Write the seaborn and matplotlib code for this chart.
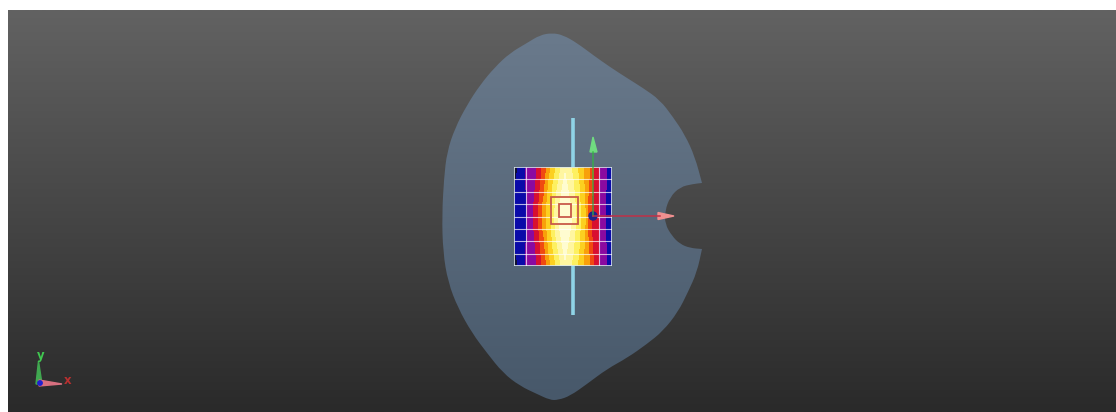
import numpy as np
import seaborn as sns
from matplotlib import pyplot as plt
from matplotlib.colors import LinearSegmentedColormap, ListedColormap
from matplotlib.patches import Polygon, Rectangle, Circle, PathPatch
from matplotlib.path import Path

# outline of the plate, clockwise from the top, in picture pixels
# the two notch corners are listed twice so the curve keeps them sharp
outline_x = [552, 563, 577, 593, 610, 627, 643, 660, 673, 685, 695, 702, 702,
             693, 680, 670, 665, 665, 672, 680, 690, 702, 702,
             697, 688, 678, 663, 647, 627, 607, 587, 570, 558, 550,
             537, 520, 503, 487, 472, 458, 448, 443, 442,
             444, 447, 455, 467, 480, 495, 510, 527, 540]
outline_y = [33, 35, 43, 55, 67, 78, 88, 100, 117, 135, 157, 183, 183,
             184, 187, 197, 211, 224, 236, 244, 248, 249, 249,
             272, 292, 312, 331, 344, 358, 369, 384, 396, 400, 400,
             394, 386, 373, 353, 333, 308, 282, 252, 215,
             178, 152, 128, 105, 85, 67, 53, 43, 35]

# band edges of the temperature field, px from the left of the map,
# one value per row from the top row down to the middle row
black_blue = [3, 2, 1, 1, 0, 0, 0, 0, 0]
blue_purple = [11, 11, 11, 11, 12, 12, 12, 12, 12]
purple_red = [22, 22, 21, 21, 20, 20, 19, 19, 19]
red_orange = [27, 27, 26, 26, 25, 25, 24, 24, 24]
orange_amber = [32, 31, 31, 30, 30, 29, 28, 28, 28]
amber_yellow = [36, 35, 34, 34, 33, 33, 32, 32, 32]
yellow_light = [41, 40, 39, 38, 38, 37, 37, 36, 36]
light_pale = [46, 45, 44, 43, 42, 41, 41, 40, 40]
pale_white = [51, 50, 49, 48, 47, 46, 45, 44, 44]
white_pale = [51, 52, 53, 54, 55, 56, 57, 58, 58]
pale_light = [58, 59, 60, 60, 61, 61, 62, 62, 62]
light_yellow = [64, 65, 65, 66, 66, 66, 67, 67, 67]
yellow_amber = [70, 70, 70, 71, 71, 71, 71, 72, 72]
amber_orange = [76, 76, 75, 75, 75, 74, 74, 74, 74]
orange_red = [80, 80, 79, 79, 79, 78, 78, 78, 78]
red_purple = [85, 85, 85, 85, 85, 85, 85, 85, 85]
purple_blue = [93, 93, 93, 93, 92, 92, 92, 92, 92]

# temperature level on the far side of each edge, left to right
edge_table = [black_blue, blue_purple, purple_red, red_orange, orange_amber, amber_yellow,
              yellow_light, light_pale, pale_white, white_pale, pale_light, light_yellow,
              yellow_amber, amber_orange, orange_red, red_purple, purple_blue]
band_levels = [0, 1, 2, 3, 4, 5, 6, 7, 8, 9, 8, 7, 6, 5, 4, 3, 2, 1]
field_colors = ["#101030", "#0a0aa8", "#8a0aa0", "#d81030", "#f04a10",
                "#f8a00a", "#fcd020", "#fdf060", "#fff6a0", "#fffcd0"]

bg_colors = ["#626262", "#2a2a2a"]
plate_colors = ["#6a7a8c", "#47586a"]

rod_x = [573, 573]
rod_y = [118, 315]
y_arrow_x = [593, 593]
y_arrow_y = [216, 152]
x_arrow_x = [593, 660]
x_arrow_y = [216, 216]

fig = plt.figure(figsize=(11.16, 4.12), dpi=100)
ax = fig.add_axes([0, 0, 1, 1])
ax.axis("off")

# backgrounds are plain vertical gradients
ramp = np.linspace(0, 1, 256).reshape(-1, 1)
bg_cmap = LinearSegmentedColormap.from_list("bg", bg_colors)
ax.imshow(ramp, cmap=bg_cmap, extent=(8, 1116, 412, 10), aspect="auto", zorder=0)
plate_cmap = LinearSegmentedColormap.from_list("plate", plate_colors)
plate_img = ax.imshow(ramp, cmap=plate_cmap, extent=(441, 704, 401, 33), aspect="auto", zorder=1)

# smooth closed outline: listed points act as quadratic control points
pts = np.column_stack([outline_x, outline_y]).astype(float)
mids = (pts + np.roll(pts, -1, axis=0)) / 2
verts = [mids[-1]]
codes = [Path.MOVETO]
for p, m in zip(pts, mids):
    verts += [p, m]
    codes += [Path.CURVE3, Path.CURVE3]
plate = PathPatch(Path(verts, codes), transform=ax.transData, fill=False, lw=0)
ax.add_patch(plate)
plate_img.set_clip_path(plate)
ax.set_xlim(0, 1116)
ax.set_ylim(412, 0)

sns.lineplot(x=rod_x, y=rod_y, ax=ax, color="#8fd3e6", lw=2.6, zorder=2, sort=False,
             estimator=None, solid_capstyle="butt")

# heatmap sits in its own axes
top_half = []
for edges in zip(*edge_table):
    row = np.array(band_levels)[np.searchsorted(edges, np.arange(98), side="right")]
    top_half.append(row)
field = np.array(top_half + top_half[-2::-1])

hm_ax = fig.add_axes([513.5 / 1116, 1 - 266 / 412, 98.5 / 1116, 99 / 412], zorder=3)
sns.heatmap(field, ax=hm_ax, cmap=ListedColormap(field_colors), vmin=0, vmax=9,
            cbar=False, xticklabels=False, yticklabels=False)
n_rows, n_cols = field.shape
grid_rows = [2.1, 4.25, 6.4, 8.5, 10.6, 12.75, 14.9]
grid_cols = [12.5, 85.5]
hm_ax.hlines(grid_rows, 0, n_cols, color="white", lw=0.8, alpha=0.7)
hm_ax.vlines(grid_cols, 0, n_rows, color="white", lw=0.8, alpha=0.7)
hm_ax.add_patch(Rectangle((0, 0), n_cols, n_rows, fill=False, ec="#d8e4ea", lw=1.2))

# overlay axes for the selection squares and arrows
top = fig.add_axes([0, 0, 1, 1], zorder=4)
top.set_xlim(0, 1116)
top.set_ylim(412, 0)
top.axis("off")
top.add_patch(Rectangle((551, 197), 27, 27, fill=False, ec="#c85a48", lw=1.3))
top.add_patch(Rectangle((559, 204), 12, 13, fill=False, ec="#c85a48", lw=1.3))
top.plot(y_arrow_x, y_arrow_y, color="#30b840", lw=1.1, alpha=0.8)
top.plot(x_arrow_x, x_arrow_y, color="#c03048", lw=1.1)
top.add_patch(Polygon([(590, 152), (597, 152), (593, 137)], color="#70dc80"))
top.add_patch(Polygon([(658, 212.5), (658, 219.5), (674, 216)], color="#f09090"))
top.add_patch(Circle((593, 216), 4, color="#22228a"))

# small triad in the corner
top.add_patch(Polygon([(36, 384), (42, 384), (38.5, 361)], color="#40a850"))
top.add_patch(Polygon([(39, 380), (39, 386), (62, 384)], color="#d87080"))
top.add_patch(Circle((40, 383), 2.2, color="#2020d0"))
top.text(41, 355, "y", color="#40c850", fontsize=8.5, fontweight="bold", ha="center", va="center")
top.text(68, 381, "x", color="#b83030", fontsize=8.5, fontweight="bold", ha="center", va="center")

fig.savefig("out.png", dpi=100)
